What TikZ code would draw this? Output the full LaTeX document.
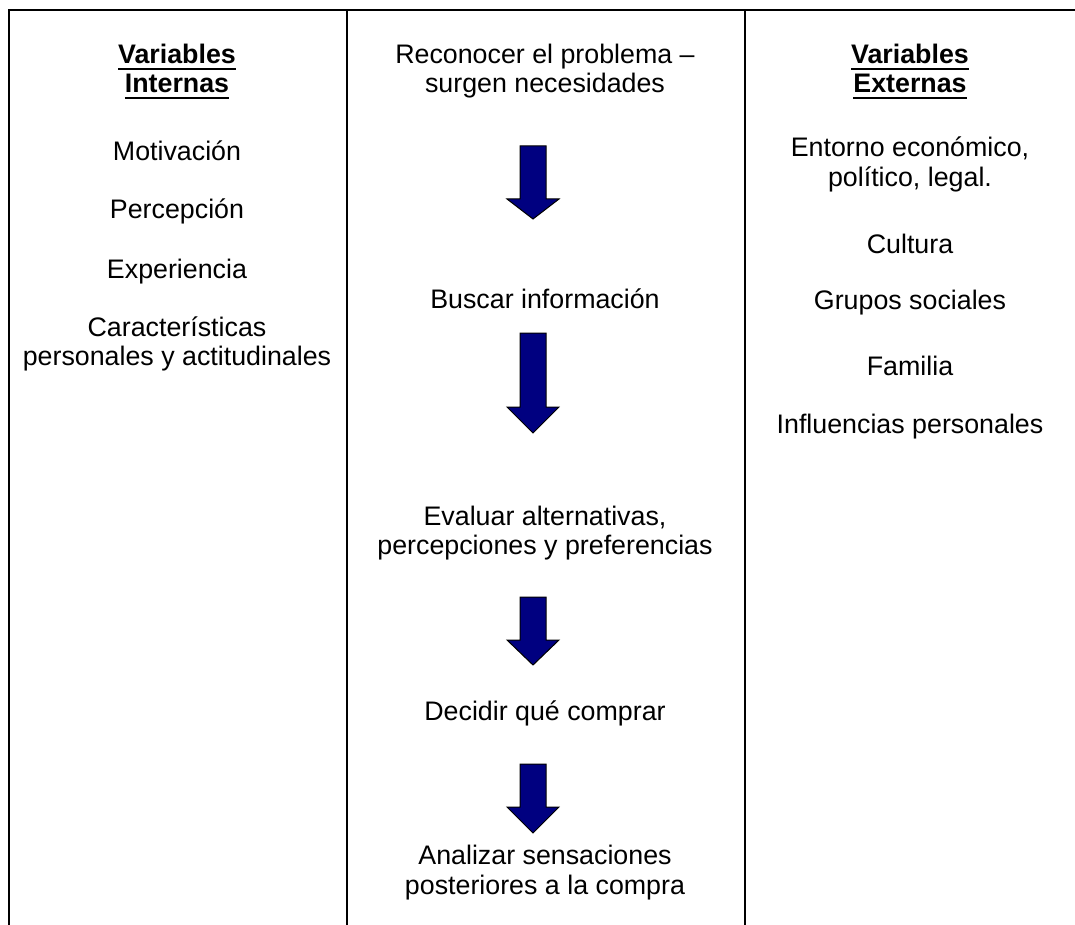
\documentclass[tikz,border=0pt]{standalone}
\usepackage{fontspec}
\setmainfont{Liberation Sans}
\definecolor{arrowblue}{RGB}{0,0,128}
% bold heading word with a thick underline
\newcommand{\ulword}[1]{\setbox0\hbox{\bfseries #1}\rlap{\rule[-6.5pt]{\wd0}{2.5pt}}\box0}
% downward block arrow: centre x, top of shaft, start of head, tip
\newcommand{\blockarrow}[5]{%
  \draw[blockarrow] (#2-13,#3) -- (#2+13,#3) -- (#2+13,#4) -- (#2+26,#4)
    -- (#2,#5) -- (#2-26,#4) -- (#2-13,#4) -- cycle;
  \coordinate (#1) at (#2,#5);}
\begin{document}
\begin{tikzpicture}[x=1pt,y=-1pt,
  txt/.style={anchor=base, inner sep=0pt, font=\fontsize{26.8}{29}\selectfont},
  rule/.style={line width=2pt},
  blockarrow/.style={fill=arrowblue, draw=black, line width=1pt, line join=miter}]
\useasboundingbox (0,0) rectangle (1075,925);

% table frame: top rule, left edge and two column separators
\draw[rule] (9,925) -- (9,10) -- (1075,10);
\draw[rule] (346.5,10) -- (346.5,925);
\draw[rule] (744.5,10) -- (744.5,925);

% left column: internal variables
\node[txt] (li1) at (177,64) {\ulword{Variables}};
\node[txt] (li2) at (177,93) {\ulword{Internas}};
\node[txt] (l1) at (177,161) {Motivación};
\node[txt] (l2) at (177,219) {Percepción};
\node[txt] (l3) at (177,278) {Experiencia};
\node[txt] (l4a) at (177,336) {Características};
\node[txt] (l4b) at (177,365) {personales y actitudinales};

% middle column: decision steps
\node[txt] (s1a) at (545,64) {Reconocer el problema –};
\node[txt] (s1b) at (545,93) {surgen necesidades};
\node[txt] (s2) at (545,308) {Buscar información};
\node[txt] (s3a) at (545,525) {Evaluar alternativas,};
\node[txt] (s3b) at (545,554) {percepciones y preferencias};
\node[txt] (s4) at (545,720) {Decidir qué comprar};
\node[txt] (s5a) at (545,864) {Analizar sensaciones};
\node[txt] (s5b) at (545,894) {posteriores a la compra};

\blockarrow{a1}{533}{146}{199}{219}
\blockarrow{a2}{533}{333}{407}{433}
\blockarrow{a3}{533}{597}{640}{665}
\blockarrow{a4}{533}{764}{807}{833}

% right column: external variables
\node[txt] (re1) at (910,64) {\ulword{Variables}};
\node[txt] (re2) at (910,93) {\ulword{Externas}};
\node[txt] (r1a) at (910,157) {Entorno económico,};
\node[txt] (r1b) at (910,187) {político, legal.};
\node[txt] (r2) at (910,253) {Cultura};
\node[txt] (r3) at (910,309) {Grupos sociales};
\node[txt] (r4) at (910,375) {Familia};
\node[txt] (r5) at (910,433) {Influencias personales};
\end{tikzpicture}
\end{document}
